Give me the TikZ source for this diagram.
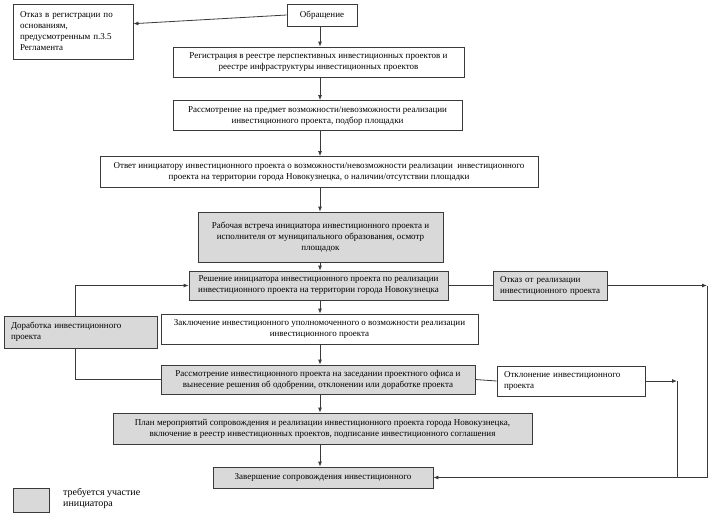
\documentclass[tikz,border=0pt]{standalone}
\usepackage{fontspec}
\setmainfont{Liberation Serif}
\usetikzlibrary{arrows.meta,calc}
\definecolor{boxgray}{HTML}{D9D9D9}
\definecolor{edge}{HTML}{3A3A3A}
\begin{document}
\begin{tikzpicture}[x=1pt,y=-1pt,
  box/.style={draw=edge, line width=0.8pt, inner sep=0pt, align=center, font=\fontsize{9}{11}\selectfont, text=black},
  gbox/.style={box, fill=boxgray},
  lbox/.style={align=left, inner xsep=7pt},
  arr/.style={draw=edge, line width=0.8pt, -{Latex[length=5pt,width=4pt]}},
  ln/.style={draw=edge, line width=0.8pt}]
\useasboundingbox (0,0) rectangle (714,515);

\coordinate (spine) at (320,0);

\node[box, minimum width=70pt, minimum height=22pt] (obr) at (322,15) {Обращение};
\node[box, lbox, text width=106pt, minimum height=55pt] (otkreg) at (73,31.5)
  {\mbox{Отказ в регистрации по}\\ \mbox{основаниям,}\\ \mbox{предусмотренным п.3.5}\\ \mbox{Регламента}};
\node[box, minimum width=291pt, minimum height=30pt] (reg) at (318.5,62)
  {Регистрация в реестре перспективных инвестиционных проектов и\\ реестре инфраструктуры инвестиционных проектов};
\node[box, minimum width=289pt, minimum height=30pt] (ras1) at (317.5,115.5)
  {Рассмотрение на предмет возможности/невозможности реализации\\ инвестиционного проекта, подбор площадки};
\node[box, minimum width=438pt, minimum height=31pt] (otv) at (319,172)
  {Ответ инициатору инвестиционного проекта о возможности/невозможности реализации\ \ инвестиционного\\ проекта на территории города Новокузнецка, о наличии/отсутствии площадки};
\node[gbox, minimum width=245pt, minimum height=50pt] (rab) at (320.5,237)
  {Рабочая встреча инициатора инвестиционного проекта и\\ исполнителя от муниципального образования, осмотр\\ площадок};
\node[gbox, minimum width=259pt, minimum height=29pt] (resh) at (318.5,285.5)
  {Решение инициатора инвестиционного проекта по реализации\\ инвестиционного проекта на территории города Новокузнецка};
\node[gbox, lbox, text width=100pt, minimum height=29pt] (otkreal) at (550,285.5)
  {\mbox{Отказ от реализации}\\ \mbox{инвестиционного проекта}};
\node[gbox, lbox, text width=139pt, minimum height=32pt] (dor) at (80.5,332)
  {\mbox{Доработка инвестиционного}\\ \mbox{проекта}};
\node[box, minimum width=317pt, minimum height=30pt] (zakl) at (319.5,329)
  {Заключение инвестиционного уполномоченного о возможности реализации\\ инвестиционного проекта};
\node[gbox, minimum width=314pt, minimum height=29pt] (ras2) at (318,379.5)
  {Рассмотрение инвестиционного проекта на заседании проектного офиса и\\ вынесение решения об одобрении, отклонении или доработке проекта};
\node[box, lbox, text width=134pt, minimum height=30pt] (otkl) at (571,381)
  {\mbox{Отклонение инвестиционного}\\ \mbox{проекта}};
\node[gbox, minimum width=419pt, minimum height=31pt] (plan) at (322.5,428.5)
  {План мероприятий сопровождения и реализации инвестиционного проекта города Новокузнецка,\\ включение в реестр инвестиционных проектов, подписание инвестиционного соглашения};
\node[gbox, minimum width=220pt, minimum height=21pt] (zav) at (323,477.5)
  {Завершение сопровождения инвестиционного};

\node[gbox, minimum width=36pt, minimum height=24pt] (leg) at (31,500) {};
\node[anchor=west, align=left, inner sep=0pt, font=\fontsize{10}{11}\selectfont] (legt) at (63,498)
  {требуется участие\\ инициатора};

% connectors
\draw[arr] (obr.west) -- ($(otkreg.north east)!0.36!(otkreg.south east)$);
\draw[arr] (obr.south -| spine) -- (reg.north -| spine);
\draw[arr] (reg.south -| spine) -- (ras1.north -| spine);
\draw[arr] (ras1.south -| spine) -- (otv.north -| spine);
\draw[arr] (otv.south -| spine) -- (rab.north -| spine);
\draw[arr] (rab.south -| spine) -- (resh.north -| spine);
\draw[arr] (resh.south -| spine) -- (zakl.north -| spine);
\draw[arr] (zakl.south -| spine) -- (ras2.north -| spine);
\draw[arr] (ras2.south -| spine) -- (plan.north -| spine);
\draw[arr] (plan.south -| spine) -- (zav.north -| spine);

\coordinate (c1) at (707,285.5);
\coordinate (c1b) at (707,477.5);
\coordinate (c2) at (677,381);
\coordinate (c2b) at (677,477.5);
\draw[ln] (resh.east) -- (otkreal.west);
\draw[arr] (otkreal.east) -- (c1);
\draw[arr] (c1) -- (c1b) -- (zav.east);
\draw[ln] (ras2.east) -- (otkl.west);
\draw[arr] (otkl.east) -- (c2);
\draw[ln] (c2) -- (c2b);

\coordinate (d1) at (75,285.5);
\coordinate (d2) at (75,379.5);
\draw[arr] (dor.north -| d1) -- (d1) -- (resh.west);
\draw[ln] (ras2.west) -- (d2) -- (dor.south -| d2);
\end{tikzpicture}
\end{document}
